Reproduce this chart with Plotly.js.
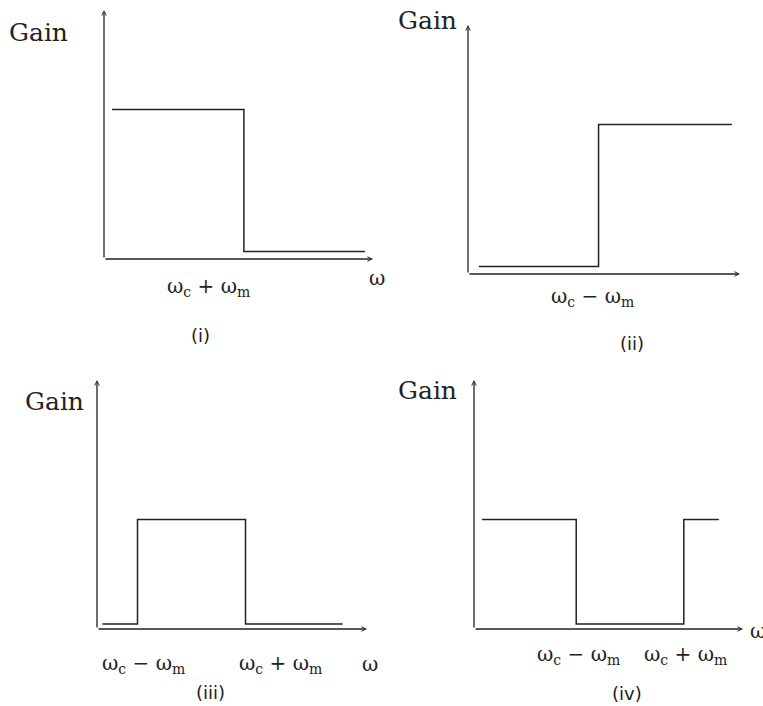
<!DOCTYPE html>
<html>
<head>
<meta charset="utf-8">
<script src="https://cdn.plot.ly/plotly-3.0.1.min.js"></script>
<style>
    html, body { margin: 0; padding: 0; background: #fff; }
    #chart { width: 763px; height: 706px; }
</style>
</head>
<body>
<div id="chart"></div>
<script>
// Gain response of the four filters, in arbitrary units (axes run 0..10)
const freq1 = [0.3, 5.2, 5.2, 9.7];
const gain1 = [6.0, 6.0, 0.3, 0.3];

const freq2 = [0.4, 4.8, 4.8, 9.7];
const gain2 = [0.3, 0.3, 6.0, 6.0];

const freq3 = [0.2, 1.5, 1.5, 5.5, 5.5, 9.1];
const gain3 = [0.2, 0.2, 4.4, 4.4, 0.2, 0.2];

const freq4 = [0.3, 3.8, 3.8, 7.8, 7.8, 9.1];
const gain4 = [4.4, 4.4, 0.2, 0.2, 4.4, 4.4];

const yTitle = 'Gain';
const xTitle = 'ω';
const lowerEdge = 'ω<sub>c</sub> − ω<sub>m</sub>';
const upperEdge = 'ω<sub>c</sub> + ω<sub>m</sub>';
const captions = ['(i)', '(ii)', '(iii)', '(iv)'];

document.addEventListener('DOMContentLoaded', function() {
    const W = 763, H = 706;
    const ink = '#222';
    const serif = 'DejaVu Serif, Liberation Serif, serif';
    const sans = 'DejaVu Sans, Noto Sans, sans-serif';

    // panel boxes in pixels: origin and arrow tips
    const panels = [
        { ox: 104, oy: 259, xtip: 373, ytop: 10 },
        { ox: 468, oy: 274, xtip: 740, ytop: 25 },
        { ox: 97, oy: 629, xtip: 367, ytop: 380 },
        { ox: 474, oy: 629, xtip: 743, ytop: 380 }
    ];
    const series = [[freq1, gain1], [freq2, gain2], [freq3, gain3], [freq4, gain4]];

    const traces = [];
    const layout = {
        width: W,
        height: H,
        margin: { l: 0, r: 0, t: 0, b: 0 },
        paper_bgcolor: '#fff',
        plot_bgcolor: 'rgba(0,0,0,0)',
        showlegend: false,
        annotations: []
    };

    panels.forEach((p, i) => {
        const n = i === 0 ? '' : String(i + 1);
        const xa = 'x' + n, ya = 'y' + n;
        const axisOpts = { range: [0, 10], visible: false, fixedrange: true };
        layout['xaxis' + n] = Object.assign({}, axisOpts, {
            domain: [p.ox / W, p.xtip / W], anchor: ya
        });
        layout['yaxis' + n] = Object.assign({}, axisOpts, {
            domain: [(H - p.oy) / H, (H - p.ytop) / H], anchor: xa
        });

        traces.push({
            x: series[i][0],
            y: series[i][1],
            xaxis: xa,
            yaxis: ya,
            type: 'scatter',
            mode: 'lines',
            line: { color: ink, width: 1.5 },
            hoverinfo: 'skip'
        });

        // axes drawn as arrows
        const arrow = {
            xref: xa, yref: ya, axref: xa, ayref: ya,
            ax: 0, ay: 0, text: '', showarrow: true,
            arrowhead: 5, arrowsize: 0.7, arrowwidth: 1.3, arrowcolor: ink
        };
        layout.annotations.push(Object.assign({}, arrow, { x: 10, y: 0 }));
        layout.annotations.push(Object.assign({}, arrow, { x: 0, y: 10 }));
    });

    // text labels, pixel positions converted to paper fractions
    function label(text, px, py, size, family, anchor) {
        layout.annotations.push({
            xref: 'paper', yref: 'paper',
            x: px / W, y: 1 - py / H,
            xanchor: anchor || 'center', yanchor: 'middle',
            text: text, showarrow: false,
            font: { family: family, size: size, color: ink }
        });
    }

    label(yTitle, 38, 32, 25, serif);
    label(yTitle, 427, 20, 25, serif);
    label(yTitle, 54, 402, 25, serif);
    label(yTitle, 427, 390, 25, serif);

    label(upperEdge, 208, 287, 20, serif);
    label(xTitle, 377, 278, 20, serif);
    label(lowerEdge, 592, 297, 20, serif);
    label(lowerEdge, 143, 664, 20, serif);
    label(upperEdge, 280, 664, 20, serif);
    label(xTitle, 370, 664, 20, serif);
    label(lowerEdge, 578, 655, 20, serif);
    label(upperEdge, 685, 655, 20, serif);
    label(xTitle, 748, 631, 20, serif, 'left');

    label(captions[0], 200, 335, 18, sans);
    label(captions[1], 632, 343, 18, sans);
    label(captions[2], 210, 692, 18, sans);
    label(captions[3], 627, 693, 18, sans);

    const config = { staticPlot: true, displayModeBar: false };
    Plotly.newPlot('chart', traces, layout, config);
});
</script>
</body>
</html>
